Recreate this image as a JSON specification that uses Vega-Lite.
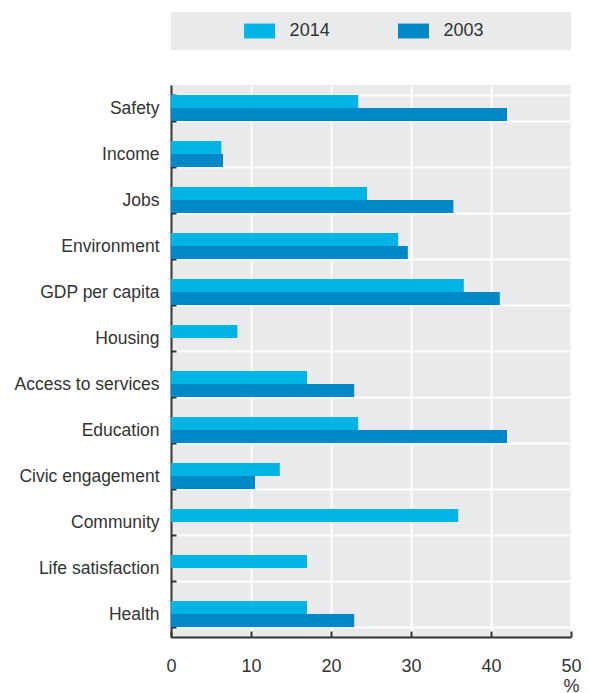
{
  "$schema": "https://vega.github.io/schema/vega-lite/v6.json",
  "padding": {"left": 14, "top": 12, "right": 5, "bottom": 0},
  "spacing": 26,
  "config": {
    "font": "Liberation Sans",
    "view": {"stroke": null, "fill": "#E9EAEC"}
  },
  "vconcat": [
    {
      "width": 400,
      "height": 38,
      "data": {"values": [{"year": "2014"}, {"year": "2003"}]},
      "layer": [
        {
          "mark": {"type": "point", "shape": "M-1,-0.48H1V0.48H-1Z", "filled": true, "opacity": 1, "size": 961, "strokeWidth": 0},
          "encoding": {
            "x": {"field": "year", "type": "nominal", "scale": {"type": "point", "domain": ["2014", "2003"], "padding": 0.8, "align": 0.36}, "axis": null},
            "color": {"field": "year", "type": "nominal", "scale": {"domain": ["2014", "2003"], "range": ["#00B4E5", "#0087C7"]}, "legend": null}
          }
        },
        {
          "mark": {"type": "text", "align": "left", "baseline": "middle", "dx": 30, "fontSize": 18, "color": "#333333"},
          "encoding": {
            "x": {"field": "year", "type": "nominal", "scale": {"type": "point", "domain": ["2014", "2003"], "padding": 0.8, "align": 0.36}, "axis": null},
            "text": {"field": "year"}
          }
        }
      ]
    },
    {
      "width": 400,
      "height": 552,
      "data": {"values": [
        {"category": "Safety", "year": "2014", "value": 23.4},
        {"category": "Safety", "year": "2003", "value": 42.0},
        {"category": "Income", "year": "2014", "value": 6.3},
        {"category": "Income", "year": "2003", "value": 6.5},
        {"category": "Jobs", "year": "2014", "value": 24.5},
        {"category": "Jobs", "year": "2003", "value": 35.3},
        {"category": "Environment", "year": "2014", "value": 28.4},
        {"category": "Environment", "year": "2003", "value": 29.6},
        {"category": "GDP per capita", "year": "2014", "value": 36.6},
        {"category": "GDP per capita", "year": "2003", "value": 41.1},
        {"category": "Housing", "year": "2014", "value": 8.3},
        {"category": "Access to services", "year": "2014", "value": 17.0},
        {"category": "Access to services", "year": "2003", "value": 22.9},
        {"category": "Education", "year": "2014", "value": 23.4},
        {"category": "Education", "year": "2003", "value": 42.0},
        {"category": "Civic engagement", "year": "2014", "value": 13.6},
        {"category": "Civic engagement", "year": "2003", "value": 10.5},
        {"category": "Community", "year": "2014", "value": 35.9},
        {"category": "Life satisfaction", "year": "2014", "value": 17.0},
        {"category": "Health", "year": "2014", "value": 17.0},
        {"category": "Health", "year": "2003", "value": 22.9}
      ]},
      "mark": {"type": "bar"},
      "encoding": {
        "y": {
          "field": "category", "type": "nominal",
          "sort": ["Safety", "Income", "Jobs", "Environment", "GDP per capita", "Housing", "Access to services", "Education", "Civic engagement", "Community", "Life satisfaction", "Health"],
          "scale": {"paddingInner": 0.435, "paddingOuter": 0.2175},
          "axis": {
            "title": null, "grid": true, "gridColor": "#FFFFFF", "gridWidth": 2, "gridOpacity": 1,
            "tickBand": "extent", "domainColor": "#333333", "domainWidth": 2,
            "tickColor": "#333333", "tickWidth": 2, "tickSize": -5,
            "labelFontSize": 17.5, "labelColor": "#333333", "labelPadding": 17, "labelLimit": 200,
            "minExtent": 156, "maxExtent": 156
          }
        },
        "x": {
          "field": "value", "type": "quantitative",
          "scale": {"domain": [0, 50]},
          "axis": {
            "values": [0, 10, 20, 30, 40, 50], "grid": true, "gridColor": "#FFFFFF", "gridWidth": 2, "gridOpacity": 1,
            "domainColor": "#333333", "domainWidth": 2, "tickColor": "#333333", "tickWidth": 2, "tickSize": -6,
            "labelFontSize": 18, "labelColor": "#333333", "labelPadding": 26, "labelFlush": false,
            "title": "%", "titleFontSize": 18, "titleFontWeight": "normal", "titleColor": "#333333",
            "titleAnchor": "end", "titleAlign": "center", "titlePadding": 2
          }
        },
        "yOffset": {"field": "year", "type": "nominal", "scale": {"domain": ["2014", "2003"], "paddingInner": 0}},
        "color": {"field": "year", "type": "nominal", "scale": {"domain": ["2014", "2003"], "range": ["#00B4E5", "#0087C7"]}, "legend": null}
      }
    }
  ]
}
